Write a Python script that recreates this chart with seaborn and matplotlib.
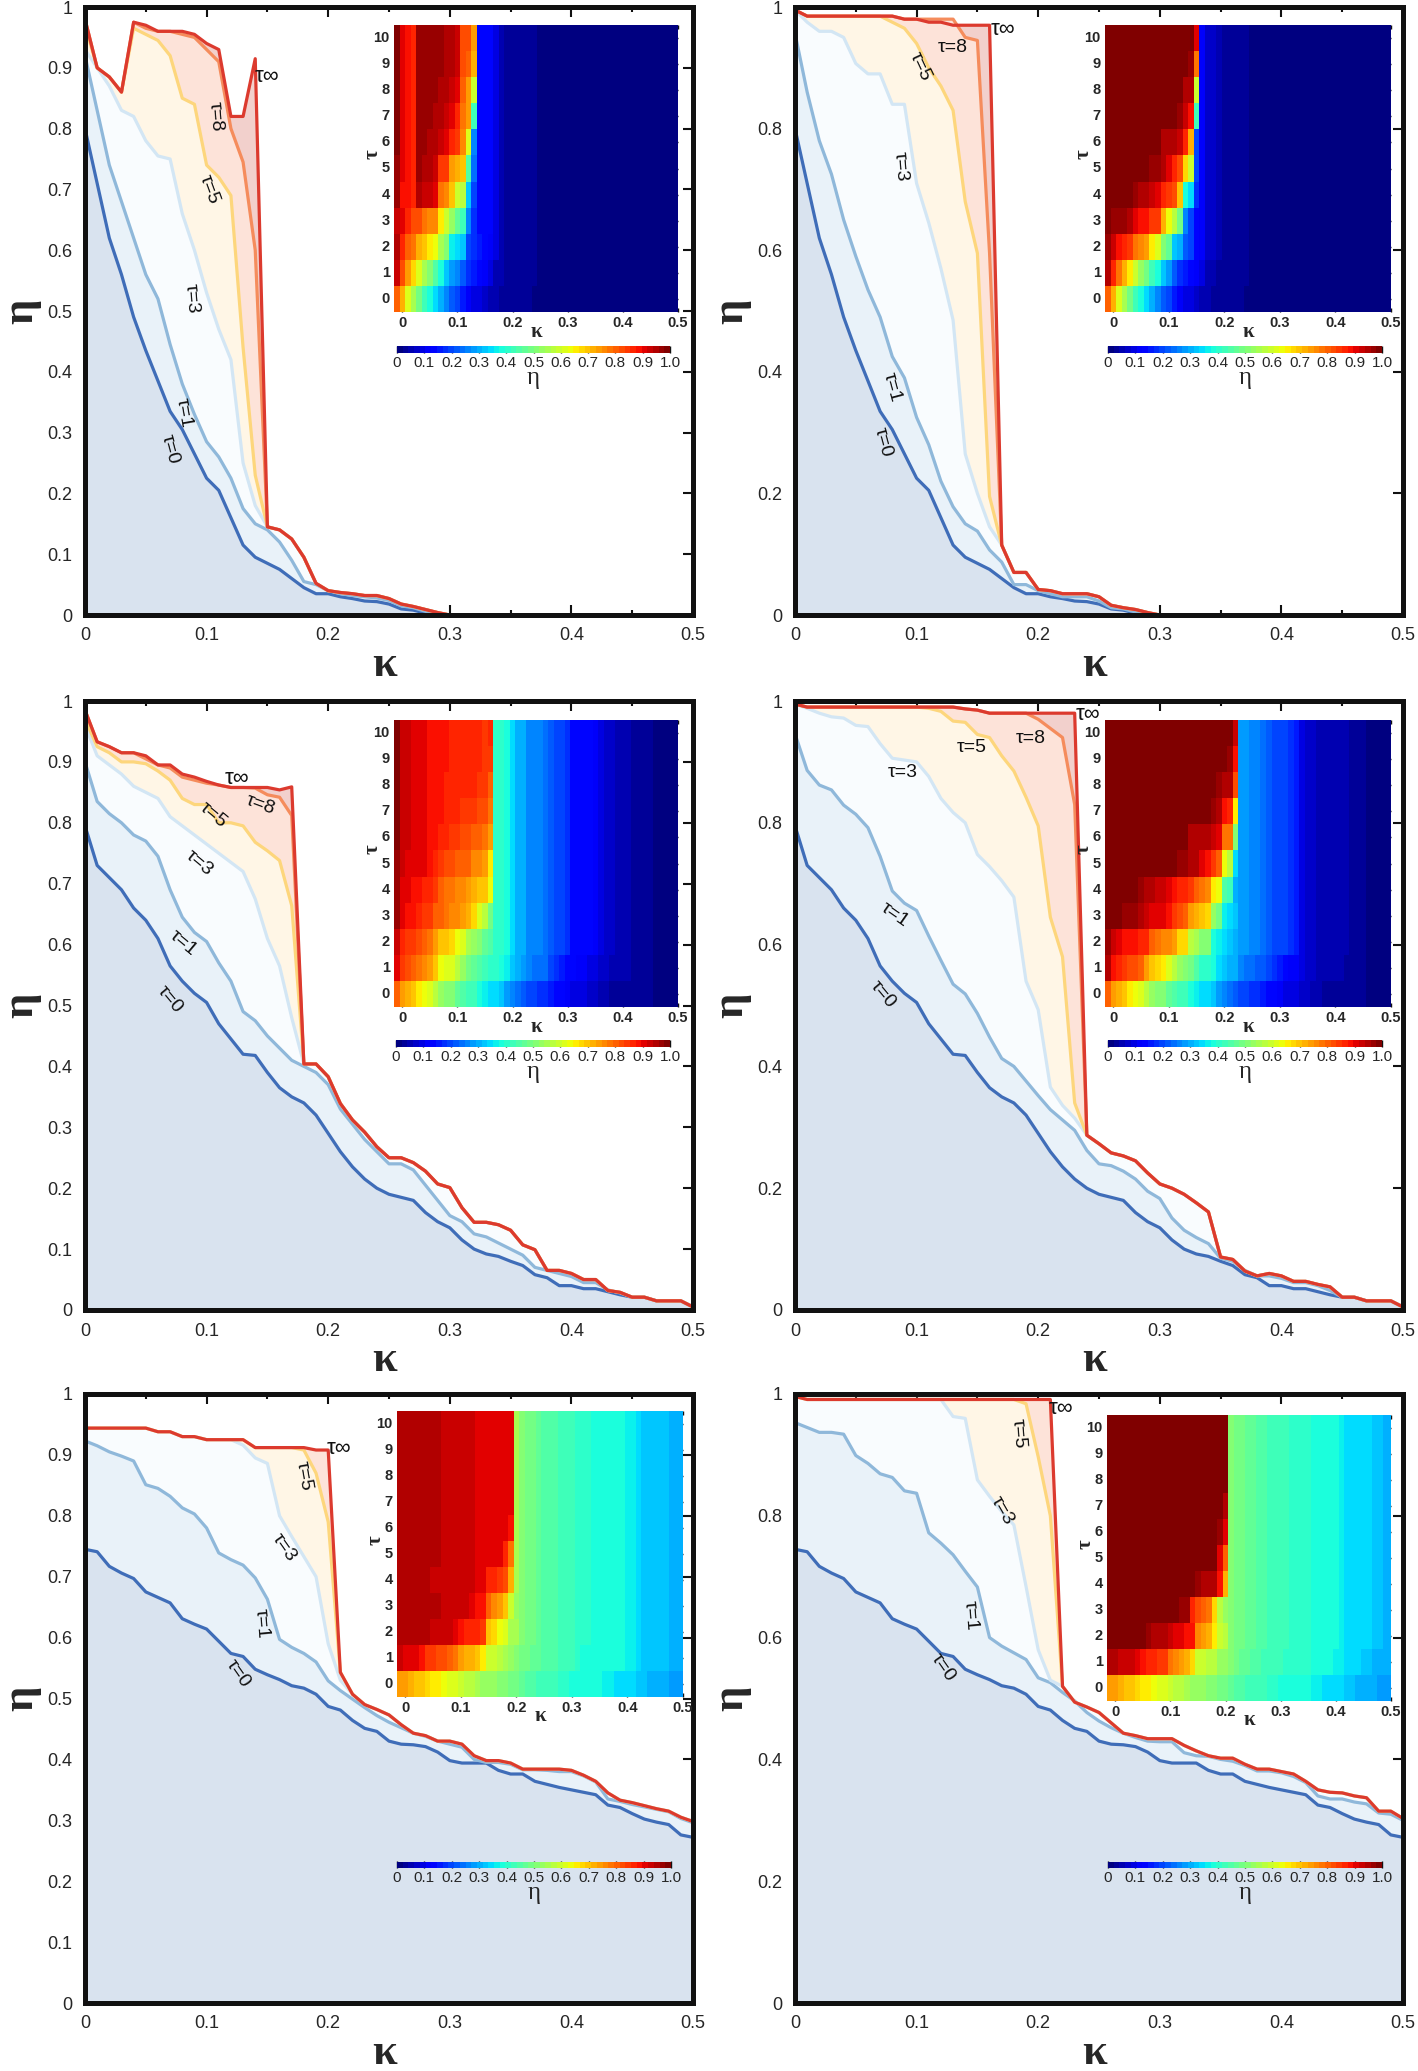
import numpy as np
import pandas as pd
import matplotlib
matplotlib.use('Agg')
import matplotlib.pyplot as plt
import seaborn as sns

KAPPA = [i / 100 for i in range(51)]
ZEROS = [0] * 51

# top left panel
P1_TINF = [.98, .90, .885, .86, .975, .97, .96, .96, .96, .955,
           .94, .93, .82, .82, .915, .145, .14, .125, .095, .052,
           .04, .037, .035, .032, .032, .027, .018, .014, .009, .004, 0]
P1_T0 = [.80, .71, .62, .56, .49, .435, .385, .335, .305, .265,
         .225, .205, .16, .115, .095, .085, .075, .06, .045, .035,
         .035, .03, .027, .023, .022, .018, .01, .008, .003, .001, 0]
P1_T1 = [.92, .83, .74, .68, .62, .56, .52, .445, .38, .33,
         .285, .26, .225, .175, .15, .14, .12, .09, .055, .05,
         .04, .035, .032, .03, .028, .024, .015, .012, .006, .002, 0]
P1_T2 = [.95, .87, .80, .78, .72, .70, .66, .63, .55, .50, .36, .34, .32, .2, .18, .16, .14, .12]
P1_T3 = [.93, .90, .87, .83, .82, .78, .755, .75, .66, .60, .53, .47, .42, .25, .18]
P1_T4 = [.97, .88, .875, .86, .94, .93, .92, .90, .78, .76, .70, .60, .57, .33, .2]
P1_T5 = [.97, .90, .885, .86, .965, .955, .945, .92, .85, .84, .74, .72, .69, .44, .23]
P1_T6 = [.98, .90, .885, .86, .97, .96, .955, .95, .92, .91, .87, .85, .75, .62, .27]
P1_T7 = [.98, .90, .885, .86, .97, .965, .96, .955, .94, .93, .90, .87, .78, .73, .42]
P1_T8 = [.98, .90, .885, .86, .975, .965, .96, .96, .955, .95, .93, .91, .80, .745, .60]
P1_T9 = [.98, .90, .885, .86, .975, .97, .96, .96, .96, .955, .94, .92, .82, .80, .72]
P1_T10 = [.98, .90, .885, .86, .975, .97, .96, .96, .96, .955, .945, .93, .82, .82, .74]

# top right panel
P2_TINF = [.995, .985, .985, .985, .985, .985, .985, .985, .985, .98,
           .98, .975, .975, .97, .97, .97, .97, .115, .07, .07,
           .042, .04, .035, .035, .035, .03, .016, .012, .009, .004, 0]
P2_T0 = P1_T0
P2_T1 = [.957, .86, .78, .725, .65, .59, .535, .49, .425, .39,
         .325, .28, .22, .178, .15, .138, .107, .087, .05, .05,
         .04, .035, .03, .03, .03, .023, .012, .01, .005, .002, 0]
P2_T2 = [.97, .93, .88, .87, .85, .78, .76, .73, .65, .62, .52, .47, .32, .30, .22, .20, .14, .11]
P2_T3 = [.995, .975, .96, .96, .95, .907, .89, .89, .84, .84, .71, .645, .57, .485, .265, .20, .145]
P2_T4 = [.985, .985, .985, .985, .985, .96, .95, .95, .92, .91, .87, .84, .83, .70, .38, .35, .18]
P2_T5 = [.995, .985, .985, .985, .985, .985, .985, .985, .975, .965, .94, .90, .87, .83, .68, .595, .195]
P2_T6 = [.995, .985, .985, .985, .985, .985, .985, .985, .985, .985, .95, .95, .94, .93, .87, .72, .2]
P2_T7 = [.995, .985, .985, .985, .985, .985, .985, .985, .985, .985, .985, .985, .985, .96, .93, .88, .42]
P2_T8 = [.995, .985, .985, .985, .985, .985, .985, .985, .985, .98, .98, .98, .98, .98, .95, .945, .595]
P2_T9 = [.995, .985, .985, .985, .985, .985, .985, .985, .985, .985, .985, .985, .985, .985, .985, .97, .78]
P2_T10 = [.995, .985, .985, .985, .985, .985, .985, .985, .985, .985, .985, .985, .985, .985, .985, .985, .90]

# middle left panel
P3_TINF = [.985, .933, .925, .915, .915, .91, .895, .895, .88, .875,
           .868, .862, .858, .858, .858, .858, .854, .859, .404, .404,
           .383, .339, .312, .292, .268, .25, .25, .242, .228, .207,
           .201, .168, .144, .144, .14, .131, .107, .099, .065, .065,
           .06, .05, .05, .032, .029, .021, .021, .015, .015, .015, .005]
P3_T0 = [.795, .73, .71, .69, .66, .64, .61, .565, .54, .52,
         .505, .47, .445, .42, .418, .39, .365, .35, .34, .32,
         .29, .26, .235, .215, .20, .19, .185, .18, .16, .145,
         .135, .115, .10, .092, .088, .08, .073, .058, .053, .04,
         .04, .035, .035, .03, .025, .021, .021, .015, .015, .015, .005]
P3_T1 = [.90, .835, .815, .80, .78, .77, .745, .69, .645, .62,
         .605, .57, .54, .49, .475, .45, .43, .41, .40, .39,
         .37, .33, .305, .28, .26, .24, .24, .23, .205, .18,
         .155, .145, .125, .12, .11, .10, .09, .07, .065, .06,
         .055, .045, .045, .033, .028, .021, .021, .015, .015, .015, .005]
P3_T2 = [.93, .87, .85, .84, .82, .81, .79, .73, .70, .69, .68, .64, .61, .56, .54, .50, .47, .44]
P3_T3 = [.96, .91, .895, .88, .86, .85, .84, .81, .795, .78, .765, .75, .735, .72, .675, .61, .565, .48]
P3_T4 = [.97, .91, .90, .89, .88, .87, .86, .84, .80, .79, .79, .76, .76, .74, .72, .69, .69, .64]
P3_T5 = [.97, .925, .915, .90, .90, .897, .885, .87, .84, .83, .83, .80, .80, .795, .768, .754, .738, .664]
P3_T6 = [.98, .93, .92, .91, .905, .90, .89, .88, .87, .86, .85, .84, .83, .83, .80, .80, .79, .74]
P3_T7 = [.98, .93, .92, .91, .91, .905, .895, .89, .875, .87, .86, .855, .85, .85, .84, .83, .82, .79]
P3_T8 = [.985, .933, .925, .915, .915, .905, .895, .89, .875, .87, .865, .862, .858, .858, .857, .846, .842, .812]
P3_T9 = [.985, .933, .925, .915, .915, .91, .895, .895, .88, .875, .868, .862, .858, .858, .858, .855, .85, .84]
P3_T10 = P3_TINF

# middle right panel
P4_TINF = [.995, .99, .99, .99, .99, .99, .99, .99, .99, .99,
           .99, .99, .99, .99, .987, .985, .98, .98, .98, .98,
           .98, .98, .98, .98, .287, .273, .258, .253, .245, .225,
           .207, .20, .19, .176, .161, .087, .083, .064, .056, .06,
           .056, .047, .047, .042, .038, .021, .021, .015, .015, .015, .005]
P4_T0 = P3_T0
P4_T1 = [.946, .886, .862, .854, .829, .814, .792, .745, .688, .668,
         .656, .614, .574, .535, .519, .487, .448, .413, .40, .376,
         .352, .329, .312, .295, .262, .24, .237, .228, .215, .195,
         .183, .151, .131, .119, .109, .085, .08, .065, .056, .056,
         .052, .045, .045, .04, .032, .021, .021, .015, .015, .015, .005]
P4_T2 = [.96, .92, .90, .89, .89, .88, .87, .86, .80, .78, .76, .75, .74, .68, .67, .58, .55, .52, .50, .38, .36, .34, .33, .31]
P4_T3 = [.995, .988, .98, .974, .972, .96, .958, .93, .906, .903, .90, .876, .84, .817, .80, .748, .728, .705, .678, .54, .493, .366, .336, .315]
P4_T4 = [.985, .985, .985, .985, .985, .985, .96, .95, .94, .93, .93, .90, .89, .87, .86, .85, .80, .78, .75, .65, .63, .45, .42, .30]
P4_T5 = [.995, .99, .99, .99, .99, .99, .99, .99, .99, .99, .99, .988, .983, .967, .965, .945, .94, .91, .885, .842, .795, .645, .58, .34]
P4_T6 = [.985, .985, .985, .985, .985, .985, .985, .985, .985, .985, .985, .985, .985, .985, .985, .95, .95, .95, .94, .92, .90, .78, .78, .50]
P4_T7 = [.985, .985, .985, .985, .985, .985, .985, .985, .985, .985, .985, .985, .985, .985, .985, .985, .985, .985, .985, .96, .94, .88, .87, .66]
P4_T8 = [.995, .99, .99, .99, .99, .99, .99, .99, .99, .99, .99, .99, .99, .99, .987, .985, .98, .98, .98, .98, .97, .955, .94, .83]
P4_T9 = [.995, .99, .99, .99, .99, .99, .99, .99, .99, .99, .99, .99, .99, .99, .99, .99, .99, .99, .99, .99, .99, .99, .97, .88]
P4_T10 = [.995, .99, .99, .99, .99, .99, .99, .99, .99, .99, .99, .99, .99, .99, .99, .99, .99, .99, .99, .99, .99, .99, .99, .92]

# bottom left panel
P5_TINF = [.944, .944, .944, .944, .944, .944, .938, .938, .93, .93,
           .925, .925, .925, .925, .912, .912, .912, .912, .912, .908,
           .908, .543, .507, .49, .482, .473, .457, .443, .439, .43,
           .43, .425, .406, .398, .398, .394, .384, .384, .384, .384,
           .382, .374, .364, .345, .333, .329, .324, .319, .315, .305, .298]
P5_T0 = [.745, .741, .717, .706, .697, .675, .666, .657, .631, .622,
         .614, .594, .574, .569, .548, .539, .531, .521, .517, .507,
         .487, .481, .464, .451, .446, .43, .425, .424, .421, .412,
         .398, .394, .394, .394, .382, .376, .376, .364, .359, .354,
         .35, .346, .342, .325, .321, .311, .302, .297, .293, .276, .272]
P5_T1 = [.923, .915, .905, .898, .89, .851, .845, .832, .813, .803,
         .78, .739, .728, .719, .698, .663, .597, .584, .574, .56,
         .529, .513, .499, .485, .472, .461, .452, .443, .438, .43,
         .425, .42, .40, .395, .395, .392, .383, .383, .382, .38,
         .38, .373, .363, .335, .331, .326, .322, .318, .314, .303, .296]
P5_T2 = [.94, .94, .94, .94, .94, .94, .935, .93, .93, .92, .90, .88, .87, .87, .86, .85, .70, .68, .63, .62, .56]
P5_T3 = [.944, .944, .944, .944, .944, .944, .938, .938, .93, .93, .925, .925, .925, .916, .895, .886, .80, .766, .733, .70, .59, .53]
P5_T4 = [.944, .944, .94, .94, .94, .94, .935, .935, .93, .93, .925, .925, .925, .925, .91, .90, .87, .87, .85, .82, .72]
P5_T5 = [.944, .944, .944, .944, .944, .944, .938, .938, .93, .93, .925, .925, .925, .925, .912, .912, .912, .912, .908, .87, .79]
P5_T6 = [.944, .944, .944, .944, .944, .944, .938, .938, .93, .93, .925, .925, .925, .925, .912, .912, .912, .912, .912, .908, .88]
P5_T7 = P5_TINF
P5_T8 = P5_TINF
P5_T9 = P5_TINF
P5_T10 = P5_TINF

# bottom right panel
P6_TINF = [.996, .991, .991, .991, .991, .991, .991, .991, .991, .991,
           .991, .991, .991, .991, .991, .991, .991, .991, .991, .991,
           .991, .991, .52, .494, .486, .477, .46, .443, .439, .434,
           .434, .434, .423, .414, .406, .402, .402, .392, .384, .384,
           .38, .376, .364, .35, .346, .345, .34, .337, .315, .315, .303]
P6_T0 = P5_T0
P6_T1 = [.953, .945, .937, .937, .934, .899, .886, .869, .863, .841,
         .837, .772, .755, .736, .709, .683, .60, .586, .575, .564,
         .534, .526, .51, .496, .477, .463, .452, .443, .436, .43,
         .429, .429, .411, .406, .405, .40, .397, .39, .381, .381,
         .378, .372, .362, .34, .335, .335, .33, .327, .312, .31, .30]
P6_T2 = [.99, .99, .99, .99, .99, .99, .99, .96, .95, .95, .94, .92, .91, .90, .89, .88, .75, .74, .72, .66, .60, .57]
P6_T3 = [.996, .991, .991, .991, .991, .991, .991, .991, .991, .991, .991, .991, .991, .963, .96, .859, .832, .807, .785, .684, .58, .53]
P6_T4 = [.99, .99, .99, .99, .99, .99, .99, .99, .99, .99, .99, .99, .99, .99, .99, .99, .96, .95, .95, .94, .88, .72]
P6_T5 = [.996, .991, .991, .991, .991, .991, .991, .991, .991, .991, .991, .991, .991, .991, .991, .991, .991, .991, .991, .984, .897, .80]
P6_T6 = [.99, .99, .99, .99, .99, .99, .99, .99, .99, .99, .99, .99, .99, .99, .99, .99, .99, .99, .99, .99, .97, .91]
P6_T7 = [.99, .99, .99, .99, .99, .99, .99, .99, .99, .99, .99, .99, .99, .99, .99, .99, .99, .99, .99, .99, .99, .95]
P6_T8 = P6_TINF
P6_T9 = P6_TINF
P6_T10 = P6_TINF

X_TICKS = [0, .1, .2, .3, .4, .5]
X_LABELS = ['0', '0.1', '0.2', '0.3', '0.4', '0.5']
Y_TICKS_FINE = [0, .1, .2, .3, .4, .5, .6, .7, .8, .9, 1]
Y_LABELS_FINE = ['0', '0.1', '0.2', '0.3', '0.4', '0.5', '0.6', '0.7', '0.8', '0.9', '1']
Y_TICKS_COARSE = [0, .2, .4, .6, .8, 1]
Y_LABELS_COARSE = ['0', '0.2', '0.4', '0.6', '0.8', '1']
CB_TICKS = [0, .1, .2, .3, .4, .5, .6, .7, .8, .9, 1]
CB_LABELS = ['0', '0.1', '0.2', '0.3', '0.4', '0.5', '0.6', '0.7', '0.8', '0.9', '1.0']

LINE_COL = {'0': '#3f6db8', '1': '#8fb8da', '3': '#d3e6f4', '5': '#fdd67c', '8': '#f58c5c', 'inf': '#dc3a2e'}
FILL_COL = {'0': '#d9e3ef', '1': '#e9f2f9', '3': '#f9fcfe', '5': '#fff6e6', '8': '#fde3d9', 'inf': '#f2d0cc'}

W, H = 1418, 2071


def fill_row(head, tail):
    tail = tail + ZEROS[len(tail):]
    return head + tail[len(head):]


def px_axes(fig, left, right, top, bottom):
    return fig.add_axes([left / W, 1 - bottom / H, (right - left) / W, (bottom - top) / H])


def draw_panel(fig, box, curves, rows, y_ticks, y_labels, texts, heat_box, cb_box):
    ax = px_axes(fig, *box)
    tail = curves['inf']
    names = list(curves.keys())
    frames = []
    for name in names[::-1]:
        eta = fill_row(curves[name], tail)
        # fills go from the top curve down so the lower ones paint over
        ax.fill_between(KAPPA, eta, 0, color=FILL_COL[name if name != 'inf' or '8' in names else '8'], lw=0, zorder=1)
    for name in names:
        eta = fill_row(curves[name], tail)
        frames.append(pd.DataFrame({'kappa': KAPPA, 'eta': eta, 'tau': name}))
    df = pd.concat(frames)
    sns.lineplot(data=df, x='kappa', y='eta', hue='tau', hue_order=names, palette=LINE_COL,
                 estimator=None, sort=False, linewidth=2.3, legend=False, ax=ax, zorder=3)
    ax.set_xlim(0, .5)
    ax.set_ylim(0, 1)
    ax.set_xticks(X_TICKS)
    ax.set_xticklabels(X_LABELS)
    ax.set_yticks(y_ticks)
    ax.set_yticklabels(y_labels)
    ax.set_xticks([.05, .15, .25, .35, .45], minor=True)
    ax.tick_params(which='major', direction='in', length=7, width=1.5, top=True, right=True,
                   labelsize=13, pad=9, color='#111111')
    ax.tick_params(which='minor', axis='x', direction='in', length=3.5, width=1.5, top=True, color='#111111')
    ax.set_xlabel('κ', fontsize=32, family='Liberation Serif', fontweight='bold', va='center')
    ax.set_ylabel('η', fontsize=32, family='Liberation Serif', fontweight='bold', va='center')
    ax.xaxis.set_label_coords(.493, -.082)
    ax.yaxis.set_label_coords(-.105, .5)
    for s in ax.spines.values():
        s.set_linewidth(3.6)
        s.set_color('#111111')
        s.set_zorder(6)
    for x, y, t, rot in texts:
        # the infinity sign comes out small, so that label gets a bigger size
        ax.text(x, y, t, fontsize=16 if '∞' in t else 14, rotation=rot, ha='center', va='center',
                color='#111111', rotation_mode='anchor', zorder=5)

    axh = px_axes(fig, *heat_box)
    cax = px_axes(fig, *cb_box)
    heat = np.array([fill_row(r, tail) + [fill_row(r, tail)[-1]] for r in rows])
    sns.heatmap(heat, ax=axh, vmin=0, vmax=1, cmap=matplotlib.colormaps['jet'].resampled(48), cbar_ax=cax,
                cbar_kws={'orientation': 'horizontal', 'ticks': CB_TICKS})
    axh.invert_yaxis()
    axh.set_xlim(0, 51.5)
    axh.set_xticks([(k + .015) / .01 for k in X_TICKS])
    axh.set_xticklabels(X_LABELS, rotation=0)
    axh.set_yticks([i + .5 for i in range(11)])
    axh.set_yticklabels([str(i) for i in range(11)], rotation=0)
    axh.tick_params(direction='in', length=3, width=1, top=True, right=True, labelsize=10.5, pad=3, color='#111111')
    for lab in axh.get_xticklabels() + axh.get_yticklabels():
        lab.set_fontweight('bold')
    axh.set_xlabel('κ', fontsize=15, family='Liberation Serif', fontweight='bold', va='center')
    axh.set_ylabel('τ', fontsize=15, family='Liberation Serif', fontweight='bold', va='center')
    axh.xaxis.set_label_coords(.5, -.068)
    axh.yaxis.set_label_coords(-.075, .55)
    cax.set_xticklabels(CB_LABELS)
    cax.tick_params(direction='in', length=5, width=1, labelsize=11, pad=2, color='#111111')
    cax.set_xlabel('η', fontsize=18, family='Liberation Serif', labelpad=-2)


sns.set_theme(style='ticks')
plt.rcParams['font.family'] = ['Liberation Sans', 'DejaVu Sans']
fig = plt.figure(figsize=(W / 100, H / 100), dpi=100)

draw_panel(fig, (85, 693, 7, 615),
           {'0': P1_T0, '1': P1_T1, '3': P1_T3, '5': P1_T5, '8': P1_T8, 'inf': P1_TINF},
           [P1_T0, P1_T1, P1_T2, P1_T3, P1_T4, P1_T5, P1_T6, P1_T7, P1_T8, P1_T9, P1_T10],
           Y_TICKS_FINE, Y_LABELS_FINE,
           [(.150, .885, 'τ∞', 0), (.107, .82, 'τ=8', -85), (.102, .70, 'τ=5', -70),
            (.088, .52, 'τ=3', -85), (.081, .332, 'τ=1', -80), (.07, .273, 'τ=0', -75)],
           (394, 678, 25, 312), (397, 670, 346, 353))

draw_panel(fig, (795, 1403, 7, 615),
           {'0': P2_T0, '1': P2_T1, '3': P2_T3, '5': P2_T5, '8': P2_T8, 'inf': P2_TINF},
           [P2_T0, P2_T1, P2_T2, P2_T3, P2_T4, P2_T5, P2_T6, P2_T7, P2_T8, P2_T9, P2_T10],
           Y_TICKS_COARSE, Y_LABELS_COARSE,
           [(.171, .963, 'τ∞', 0), (.13, .933, 'τ=8', 0), (.103, .902, 'τ=5', -65),
            (.087, .737, 'τ=3', -85), (.08, .375, 'τ=1', -75), (.072, .284, 'τ=0', -75)],
           (1105, 1391, 25, 312), (1108, 1382, 346, 353))

draw_panel(fig, (85, 693, 701, 1310),
           {'0': P3_T0, '1': P3_T1, '3': P3_T3, '5': P3_T5, '8': P3_T8, 'inf': P3_TINF},
           [P3_T0, P3_T1, P3_T2, P3_T3, P3_T4, P3_T5, P3_T6, P3_T7, P3_T8, P3_T9, P3_T10],
           Y_TICKS_FINE, Y_LABELS_FINE,
           [(.125, .872, 'τ∞', 0), (.144, .829, 'τ=8', -20), (.105, .813, 'τ=5', -40),
            (.094, .733, 'τ=3', -40), (.081, .603, 'τ=1', -40), (.07, .51, 'τ=0', -50)],
           (394, 678, 720, 1007), (396, 670, 1040, 1047))

draw_panel(fig, (795, 1403, 701, 1310),
           {'0': P4_T0, '1': P4_T1, '3': P4_T3, '5': P4_T5, '8': P4_T8, 'inf': P4_TINF},
           [P4_T0, P4_T1, P4_T2, P4_T3, P4_T4, P4_T5, P4_T6, P4_T7, P4_T8, P4_T9, P4_T10],
           Y_TICKS_COARSE, Y_LABELS_COARSE,
           [(.241, .978, 'τ∞', 0), (.194, .939, 'τ=8', 0), (.145, .924, 'τ=5', 0),
            (.089, .883, 'τ=3', 0), (.082, .649, 'τ=1', -35), (.072, .518, 'τ=0', -50)],
           (1105, 1391, 720, 1007), (1108, 1382, 1040, 1047))

draw_panel(fig, (85, 693, 1394, 2003),
           {'0': P5_T0, '1': P5_T1, '3': P5_T3, '5': P5_T5, 'inf': P5_TINF},
           [P5_T0, P5_T1, P5_T2, P5_T3, P5_T4, P5_T5, P5_T6, P5_T7, P5_T8, P5_T9, P5_T10],
           Y_TICKS_FINE, Y_LABELS_FINE,
           [(.209, .911, 'τ∞', 0), (.18, .866, 'τ=5', -80), (.164, .748, 'τ=3', -55),
            (.145, .623, 'τ=1', -85), (.126, .54, 'τ=0', -55)],
           (397, 683, 1411, 1697), (397, 671, 1862, 1868))

draw_panel(fig, (795, 1403, 1394, 2003),
           {'0': P6_T0, '1': P6_T1, '3': P6_T3, '5': P6_T5, 'inf': P6_TINF},
           [P6_T0, P6_T1, P6_T2, P6_T3, P6_T4, P6_T5, P6_T6, P6_T7, P6_T8, P6_T9, P6_T10],
           Y_TICKS_COARSE, Y_LABELS_COARSE,
           [(.219, .976, 'τ∞', 0), (.184, .935, 'τ=5', -85), (.17, .809, 'τ=3', -60),
            (.144, .636, 'τ=1', -85), (.122, .551, 'τ=0', -55)],
           (1107, 1391, 1415, 1701), (1108, 1382, 1862, 1868))

fig.savefig('out.png', dpi=100)
